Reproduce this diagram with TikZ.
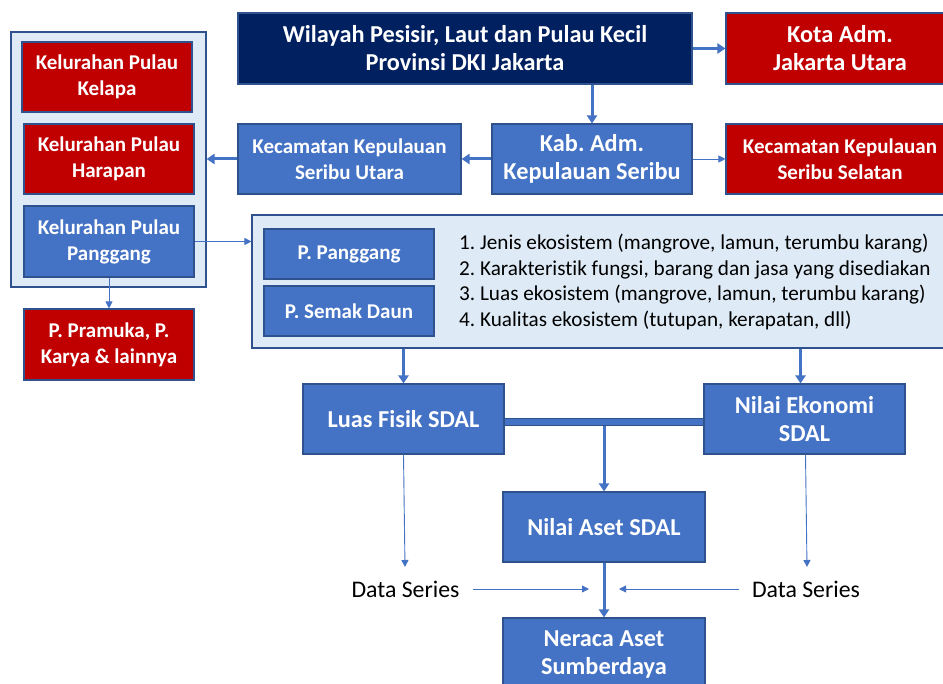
\documentclass[tikz,border=0pt]{standalone}
\usepackage{fontspec}
\setmainfont[Ligatures=NoCommon]{Carlito}
\usetikzlibrary{arrows.meta}
\definecolor{navy}{HTML}{002060}
\definecolor{dred}{HTML}{C00000}
\definecolor{mblue}{HTML}{4472C4}
\definecolor{lblue}{HTML}{DEEBF7}
\definecolor{bord}{HTML}{2F528F}
\frenchspacing
\begin{document}
\begin{tikzpicture}[x=1pt,y=-1pt,
  bx/.style={draw=bord, line width=1.1pt, text=white, align=center, inner sep=0pt,
    font=\bfseries\fontsize{24.3}{28}\selectfont},
  sm/.style={font=\bfseries\fontsize{21}{26}\selectfont},
  cont/.style={draw=bord, line width=1.1pt, fill=lblue, inner sep=0pt},
  thick arrow/.style={draw=mblue, line width=3pt, -{Triangle[width=10pt,length=8pt]}},
  thin arrow/.style={draw=mblue, line width=0.9pt, -{Triangle[width=7pt,length=7pt]}},
  plain/.style={font=\fontsize{23.8}{26}\selectfont, inner sep=0pt}]
\useasboundingbox (0,0) rectangle (943,684);
\clip (0,0) rectangle (943,684);
\fill[white] (0,0) rectangle (943,684);

% containers
\node[cont, minimum width=195pt, minimum height=255pt] (leftc) at (108.5,159.5) {};
\node[cont, minimum width=720pt, minimum height=133pt] (rightc) at (612,281.5) {};

% top row
\node[bx, fill=navy, minimum width=454pt, minimum height=71pt] (top) at (465,48.5)
  {Wilayah Pesisir, Laut dan Pulau Kecil\\Provinsi DKI Jakarta};
\node[bx, fill=dred, minimum width=228pt, minimum height=71pt] (kota) at (840,48.5)
  {Kota Adm.\\Jakarta Utara};
% second row
\node[bx, fill=mblue, minimum width=200pt, minimum height=70pt] (kab) at (592,159)
  {Kab. Adm.\\Kepulauan Seribu};
\node[bx, sm, fill=mblue, minimum width=223pt, minimum height=70pt] (utara) at (349.5,159)
  {Kecamatan Kepulauan\\Seribu Utara};
\node[bx, sm, fill=dred, minimum width=228pt, minimum height=70pt] (selatan) at (840,159)
  {Kecamatan Kepulauan\\Seribu Selatan};
% left column
\node[bx, sm, fill=dred, minimum width=170pt, minimum height=70pt] (kelapa) at (107,77)
  {Kelurahan Pulau\\Kelapa};
\node[bx, sm, fill=dred, minimum width=170pt, minimum height=70pt] (harapan) at (109,159)
  {Kelurahan Pulau\\Harapan};
\node[bx, sm, fill=mblue, minimum width=170pt, minimum height=71pt] (panggang) at (109,241.5)
  {Kelurahan Pulau\\Panggang};
\node[bx, sm, fill=dred, minimum width=170pt, minimum height=71pt] (pramuka) at (109,344.5)
  {P. Pramuka, P.\\Karya \& lainnya};
% inside right container
\node[bx, sm, fill=mblue, minimum width=170pt, minimum height=50pt] (ppang) at (349,254)
  {P. Panggang};
\node[bx, sm, fill=mblue, minimum width=170pt, minimum height=50pt] (psemak) at (349,311)
  {P. Semak Daun};
\node[anchor=west, align=left, inner sep=0pt, font=\fontsize{21.2}{25.7}\selectfont] (list) at (459,282)
  {1. Jenis ekosistem (mangrove, lamun, terumbu karang)\\
   2. Karakteristik fungsi, barang dan jasa yang disediakan\\
   3. Luas ekosistem (mangrove, lamun, terumbu karang)\\
   4. Kualitas ekosistem (tutupan, kerapatan, dll)};
% lower part
\node[bx, fill=mblue, minimum width=201pt, minimum height=70pt] (luas) at (403.5,419)
  {Luas Fisik SDAL};
\node[bx, fill=mblue, minimum width=201pt, minimum height=70pt] (ekon) at (804.5,419)
  {Nilai Ekonomi\\SDAL};
\node[bx, fill=mblue, minimum width=202pt, minimum height=70pt] (aset) at (604,527)
  {Nilai Aset SDAL};
\node[bx, fill=mblue, minimum width=202pt, minimum height=74pt] (neraca) at (604,655)
  {Neraca Aset\\Sumberdaya};
\node[plain] (ds1) at (405.5,589) {Data Series};
\node[plain] (ds2) at (806,589) {Data Series};

% connectors
\draw[thick arrow] (top.east) -- (kota.west);
\draw[thick arrow] (top.south -| kab.north) -- (kab.north);
\draw[thick arrow] (kab.west) -- (utara.east);
\draw[thin arrow] (kab.east) -- (selatan.west);
\draw[thick arrow] (utara.west) -- (utara.west -| leftc.east);
\draw[thin arrow] (panggang.south) -- (pramuka.north);
\draw[thin arrow] (panggang.east) -- (panggang.east -| rightc.west);
\draw[thick arrow] (rightc.south -| luas.north) -- (luas.north);
\draw[thick arrow] ([xshift=-4pt]rightc.south -| ekon.north) -- ([xshift=-4pt]ekon.north);
% double connector
\coordinate (dl) at (luas.east |- 0,422);
\coordinate (dr) at (ekon.west |- 0,422);
\draw[bord, line width=8pt] (dl) -- (dr);
\draw[mblue, line width=5.5pt] (dl) -- (dr);
\draw[thick arrow] (aset.north |- 0,426) -- (aset.north);
\draw[thick arrow] (aset.south) -- (neraca.north);
% data series connectors
\coordinate (e1) at (405,567);
\coordinate (e2) at (807,567);
\coordinate (c1) at (589,589);
\coordinate (c2) at (619,589);
\coordinate (s1) at (473,589);
\coordinate (s2) at (739,589);
\draw[thin arrow] (luas.south) -- (e1);
\draw[thin arrow] ([xshift=1pt]ekon.south) -- (e2);
\draw[thin arrow] (s1) -- (c1);
\draw[thin arrow] (s2) -- (c2);
\end{tikzpicture}
\end{document}
